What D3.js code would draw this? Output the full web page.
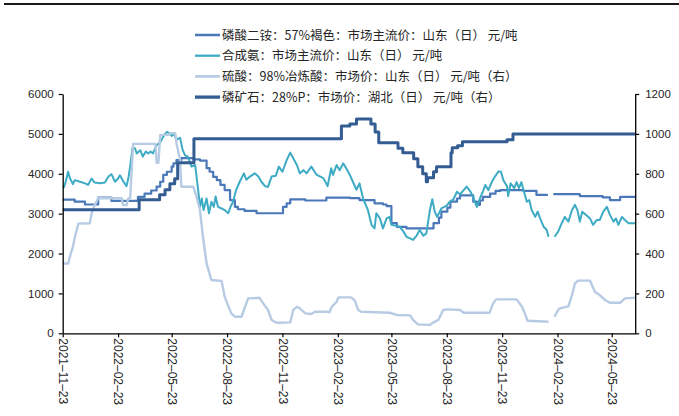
<!DOCTYPE html>
<html>
<head>
<meta charset="utf-8">
<script src="https://cdn.jsdelivr.net/npm/d3@7"></script>
<style>
  body { margin: 0; background: #fff; }
  svg { display: block; }
</style>
</head>
<body>
<svg id="chart" width="679" height="416"></svg>
<script>
// ---- data -------------------------------------------------------------
const seriesNames = [
  "磷酸二铵：57%褐色：市场主流价：山东（日） 元/吨",
  "合成氨：市场主流价：山东（日） 元/吨",
  "硫酸：98%冶炼酸：市场价：山东（日） 元/吨（右）",
  "磷矿石：28%P：市场价：湖北（日） 元/吨（右）"
];

const leftTicks = [0, 1000, 2000, 3000, 4000, 5000, 6000];
const rightTicks = [0, 200, 400, 600, 800, 1000, 1200];
const dateTicks = ["2021-11-23", "2022-02-23", "2022-05-23", "2022-08-23", "2022-11-23",
  "2023-02-23", "2023-05-23", "2023-08-23", "2023-11-23", "2024-02-23", "2024-05-23"];
const dateRange = ["2021-11-23", "2024-07-01"];

// 磷酸二铵 (left axis, price change points)
const dapSeries = [
  ["2021-11-23",3350],["2021-12-13",3300],["2021-12-30",3230],["2022-01-21",3400],["2022-02-12",3320],
  ["2022-03-28",3420],["2022-04-08",3500],["2022-04-19",3580],["2022-04-28",3680],["2022-05-04",3800],
  ["2022-05-09",3970],["2022-05-15",4050],["2022-05-23",4180],["2022-05-26",4260],["2022-05-31",4340],
  ["2022-06-08",4390],["2022-06-28",4360],["2022-07-09",4330],["2022-07-20",4140],["2022-07-25",4050],
  ["2022-07-31",3920],["2022-08-06",3840],["2022-08-12",3720],["2022-08-19",3590],["2022-08-28",3340],
  ["2022-09-05",3170],["2022-09-10",3110],["2022-09-21",3070],["2022-10-11",3010],["2022-11-24",3170],
  ["2022-11-30",3260],["2022-12-06",3360],["2022-12-31",3330],["2023-02-04",3400],["2023-03-15",3390],
  ["2023-03-31",3340],["2023-04-25",3260],["2023-05-09",3230],["2023-05-15",3190],["2023-05-23",2760],
  ["2023-06-01",2670],["2023-06-17",2630],["2023-08-01",2760],["2023-08-10",2900],["2023-08-14",3050],
  ["2023-08-24",3150],["2023-08-29",3300],["2023-09-09",3380],["2023-09-14",3460],["2023-10-06",3300],
  ["2023-10-12",3220],["2023-10-17",3330],["2023-10-22",3420],["2023-11-03",3500],["2023-11-12",3570],
  ["2023-11-20",3590],["2023-12-28",3570],["2024-01-19",3470],["2024-02-07",3470],["2024-02-08",null],
  ["2024-02-16",3490],["2024-03-31",3440],["2024-05-08",3410],["2024-05-20",3340],["2024-06-06",3420],
  ["2024-07-01",3420]
];

// 合成氨 (left axis)
const ammoniaSeries = [
  ["2021-11-23",3690],["2021-11-25",3660],["2021-11-28",3800],["2021-12-02",4050],["2021-12-05",3890],
  ["2021-12-10",3740],["2021-12-13",3840],["2021-12-22",3800],["2021-12-30",3760],["2022-01-04",3720],
  ["2022-01-10",3880],["2022-01-15",3780],["2022-01-24",3760],["2022-02-01",3780],["2022-02-07",3930],
  ["2022-02-12",3990],["2022-02-18",3800],["2022-02-23",3880],["2022-02-26",3960],["2022-03-04",3800],
  ["2022-03-09",3690],["2022-03-12",3880],["2022-03-15",4180],["2022-03-19",4640],["2022-03-23",4640],
  ["2022-03-26",4510],["2022-04-01",4590],["2022-04-05",4430],["2022-04-10",4560],["2022-04-14",4510],
  ["2022-04-18",4560],["2022-04-22",4510],["2022-04-28",4720],["2022-05-04",4780],["2022-05-09",4930],
  ["2022-05-15",5050],["2022-05-19",5020],["2022-05-23",4950],["2022-05-27",5000],["2022-05-31",4860],
  ["2022-06-06",4900],["2022-06-10",4610],["2022-06-14",4470],["2022-06-19",4430],["2022-06-25",4180],
  ["2022-07-01",4220],["2022-07-06",3590],["2022-07-09",3170],["2022-07-12",3380],["2022-07-15",3090],
  ["2022-07-20",3380],["2022-07-24",3010],["2022-07-28",3300],["2022-08-01",3170],["2022-08-04",3430],
  ["2022-08-08",3170],["2022-08-14",3130],["2022-08-19",3090],["2022-08-25",3010],["2022-08-29",3180],
  ["2022-09-02",3300],["2022-09-07",3590],["2022-09-13",3800],["2022-09-20",4010],["2022-09-24",3850],
  ["2022-09-30",3930],["2022-10-08",4010],["2022-10-14",3930],["2022-10-19",3800],["2022-10-25",3690],
  ["2022-10-30",3670],["2022-11-05",3930],["2022-11-12",3950],["2022-11-17",4180],["2022-11-23",4050],
  ["2022-11-30",4340],["2022-12-06",4530],["2022-12-11",4390],["2022-12-17",4220],["2022-12-22",4010],
  ["2022-12-28",4090],["2023-01-02",4010],["2023-01-10",4180],["2023-01-19",3970],["2023-01-30",3890],
  ["2023-02-06",3690],["2023-02-12",4140],["2023-02-15",3970],["2023-02-21",4220],["2023-02-26",4090],
  ["2023-03-04",4260],["2023-03-09",4140],["2023-03-15",3970],["2023-03-20",3800],["2023-03-26",3600],
  ["2023-03-31",3760],["2023-04-06",3380],["2023-04-14",3090],["2023-04-20",2720],["2023-04-25",2630],
  ["2023-04-28",3010],["2023-05-04",2880],["2023-05-09",2630],["2023-05-15",2880],["2023-05-20",2920],
  ["2023-05-23",2720],["2023-05-29",2700],["2023-06-06",2670],["2023-06-12",2550],["2023-06-17",2420],
  ["2023-06-23",2380],["2023-06-28",2340],["2023-07-04",2450],["2023-07-09",2590],["2023-07-15",2450],
  ["2023-07-20",2500],["2023-07-26",3090],["2023-07-30",3360],["2023-08-03",3050],["2023-08-07",2920],
  ["2023-08-14",3130],["2023-08-23",3200],["2023-08-28",3300],["2023-09-03",3360],["2023-09-09",3550],
  ["2023-09-14",3480],["2023-09-20",3590],["2023-09-25",3680],["2023-10-01",3560],["2023-10-06",3410],
  ["2023-10-12",3170],["2023-10-17",3380],["2023-10-22",3550],["2023-10-26",3720],["2023-10-31",3590],
  ["2023-11-06",3800],["2023-11-11",3930],["2023-11-17",4060],["2023-11-21",4050],["2023-11-25",3840],
  ["2023-12-01",3690],["2023-12-03",3440],["2023-12-07",3760],["2023-12-13",3640],["2023-12-17",3790],
  ["2023-12-21",3640],["2023-12-25",3790],["2023-12-30",3510],["2024-01-03",3300],["2024-01-07",3340],
  ["2024-01-11",3090],["2024-01-17",2920],["2024-01-21",3050],["2024-01-25",2880],["2024-01-31",2670],
  ["2024-02-05",2590],["2024-02-08",2420],["2024-02-12",null],["2024-02-18",2420],["2024-02-24",2550],
  ["2024-03-01",2760],["2024-03-06",2920],["2024-03-12",2800],["2024-03-18",3090],["2024-03-23",3220],
  ["2024-03-27",3090],["2024-03-31",2800],["2024-04-04",3050],["2024-04-10",2970],["2024-04-17",2880],
  ["2024-04-22",2720],["2024-04-28",2840],["2024-05-03",2840],["2024-05-09",3050],["2024-05-15",3170],
  ["2024-05-20",2970],["2024-05-26",2800],["2024-05-30",2880],["2024-06-03",2720],["2024-06-09",2920],
  ["2024-06-14",2840],["2024-06-20",2760],["2024-07-01",2760]
];

// 硫酸 (right axis)
const acidSeries = [
  ["2021-11-23",350],["2021-12-02",350],["2021-12-05",385],["2021-12-10",435],["2021-12-13",480],
  ["2021-12-19",550],["2022-01-07",552],["2022-01-10",600],["2022-01-15",643],["2022-01-21",677],
  ["2022-03-01",677],["2022-03-03",643],["2022-03-09",643],["2022-03-12",677],["2022-03-15",677],
  ["2022-03-20",950],["2022-04-26",950],["2022-04-28",855],["2022-05-01",855],["2022-05-04",995],
  ["2022-05-17",995],["2022-05-21",1003],["2022-05-29",1003],["2022-05-31",953],["2022-06-06",870],
  ["2022-06-08",735],["2022-06-28",735],["2022-07-03",688],["2022-07-09",618],["2022-07-14",484],
  ["2022-07-20",351],["2022-07-28",267],["2022-08-14",262],["2022-08-19",184],["2022-08-30",100],
  ["2022-09-05",83],["2022-09-16",83],["2022-09-19",108],["2022-09-27",175],["2022-10-16",178],
  ["2022-10-22",150],["2022-10-30",117],["2022-11-05",67],["2022-11-13",53],["2022-12-06",55],
  ["2022-12-11",117],["2022-12-17",133],["2022-12-22",125],["2022-12-31",100],["2023-01-10",97],
  ["2023-01-16",108],["2023-02-04",108],["2023-02-09",105],["2023-02-13",133],["2023-02-21",158],
  ["2023-02-24",180],["2023-03-17",180],["2023-03-23",165],["2023-03-29",117],["2023-04-03",108],
  ["2023-05-20",103],["2023-06-01",92],["2023-06-23",90],["2023-06-28",67],["2023-07-06",45],
  ["2023-07-26",42],["2023-08-01",55],["2023-08-09",67],["2023-08-17",117],["2023-08-23",120],
  ["2023-09-14",117],["2023-09-20",103],["2023-11-02",103],["2023-11-08",150],["2023-11-13",170],
  ["2023-12-17",170],["2023-12-22",150],["2023-12-26",133],["2024-01-01",90],["2024-01-04",63],
  ["2024-02-08",58],["2024-02-12",null],["2024-02-18",83],["2024-02-24",117],["2024-02-27",125],
  ["2024-03-12",135],["2024-03-18",192],["2024-03-23",251],["2024-03-28",264],["2024-04-17",264],
  ["2024-04-25",208],["2024-05-03",192],["2024-05-12",167],["2024-05-20",153],["2024-06-06",153],
  ["2024-06-14",175],["2024-07-01",178]
];

// 磷矿石 (right axis, price change points)
const rockSeries = [
  ["2021-11-23",620],["2022-03-30",670],["2022-05-03",695],["2022-05-12",720],["2022-05-20",750],
  ["2022-05-28",775],["2022-06-02",855],["2022-06-29",975],["2023-03-01",1040],["2023-03-15",1050],
  ["2023-03-26",1075],["2023-04-19",1050],["2023-04-26",1010],["2023-05-02",955],["2023-06-03",928],
  ["2023-06-11",905],["2023-06-29",875],["2023-07-06",835],["2023-07-14",800],["2023-07-20",760],
  ["2023-07-22",780],["2023-08-01",810],["2023-08-06",835],["2023-08-30",905],["2023-09-01",930],
  ["2023-09-10",940],["2023-09-18",960],["2023-12-01",970],["2023-12-11",1000],["2024-07-01",1000]
];

// ---- layout -----------------------------------------------------------
const svg = d3.select("#chart");
const plotLeft = 62.7, plotRight = 635.2, plotTop = 94, plotBottom = 333.3;
const parse = d3.utcParse("%Y-%m-%d");
const numFont = "'Liberation Sans', Arial, sans-serif";
const cjkFont = "'Noto Sans CJK SC', 'Noto Sans', sans-serif";
const textColor = "#262626";
const plainNumber = d3.format("d");

const x = d3.scaleUtc().domain(dateRange.map(parse)).range([plotLeft, plotRight]);
const yL = d3.scaleLinear().domain([0, 6000]).range([plotBottom, plotTop]);
const yR = d3.scaleLinear().domain([0, 1200]).range([plotBottom, plotTop]);

// top rule
svg.append("line").attr("x1", 4).attr("x2", 679).attr("y1", 4).attr("y2", 4)
  .attr("stroke", "#1a1a1a").attr("stroke-width", 2);

// ---- series -----------------------------------------------------------
const series = [
  { name: seriesNames[0], data: dapSeries,     scale: yL, color: "#4a78b8", width: 2.2, curve: d3.curveStepAfter },
  { name: seriesNames[1], data: ammoniaSeries, scale: yL, color: "#3eabc4", width: 2.0, curve: d3.curveLinear },
  { name: seriesNames[2], data: acidSeries,    scale: yR, color: "#b7cbe4", width: 2.4, curve: d3.curveLinear },
  { name: seriesNames[3], data: rockSeries,    scale: yR, color: "#335d92", width: 3.0, curve: d3.curveStepAfter }
];

const plot = svg.append("g");
series.forEach(s => {
  const line = d3.line()
    .defined(d => d[1] !== null)
    .x(d => x(parse(d[0])))
    .y(d => s.scale(d[1]))
    .curve(s.curve);
  plot.append("path")
    .datum(s.data)
    .attr("fill", "none")
    .attr("stroke", s.color)
    .attr("stroke-width", s.width)
    .attr("stroke-linejoin", "round")
    .attr("d", line);
});

// ---- axes -------------------------------------------------------------
function styleAxis(g) {
  g.selectAll("path.domain").attr("stroke", "#000").attr("stroke-width", 1.3);
  g.selectAll(".tick line").attr("stroke", "#000").attr("stroke-width", 1.2);
  g.selectAll("text").attr("fill", textColor).style("font-family", numFont);
}

svg.append("g")
  .attr("transform", `translate(${plotLeft},0)`)
  .call(d3.axisLeft(yL).tickValues(leftTicks).tickFormat(plainNumber)
    .tickSize(4).tickSizeOuter(0).tickPadding(5))
  .call(styleAxis)
  .call(g => g.selectAll("text").style("font-size", "11.5px"));

svg.append("g")
  .attr("transform", `translate(${plotRight},0)`)
  .call(d3.axisRight(yR).tickValues(rightTicks).tickFormat(plainNumber)
    .tickSize(4).tickSizeOuter(0).tickPadding(6))
  .call(styleAxis)
  .call(g => g.selectAll("text").style("font-size", "11.5px"));

const xAxis = svg.append("g")
  .attr("transform", `translate(0,${plotBottom})`)
  .call(d3.axisBottom(x)
    .tickValues(dateTicks.map(parse))
    .tickFormat(d3.utcFormat("%Y–%m–%d"))
    .tickSize(4).tickSizeOuter(0))
  .call(styleAxis);
xAxis.selectAll("text")
  .style("font-size", "12px")
  .attr("text-anchor", "start")
  .attr("transform", "translate(0,5) rotate(90)")
  .attr("x", 0).attr("y", 0).attr("dy", "0.36em");

// ---- legend -----------------------------------------------------------
const legend = svg.append("g").attr("transform", "translate(195,35)");
series.forEach((s, i) => {
  const row = legend.append("g").attr("transform", `translate(0,${i * 20.7})`);
  row.append("line").attr("x1", 0).attr("x2", 25).attr("y1", 0).attr("y2", 0)
    .attr("stroke", s.color).attr("stroke-width", s.width + 0.3);
  row.append("text").attr("x", 27).attr("y", 0).attr("dy", "0.36em")
    .attr("fill", textColor)
    .style("font-family", cjkFont).style("font-size", "12.5px")
    .text(s.name);
});
</script>
</body>
</html>
